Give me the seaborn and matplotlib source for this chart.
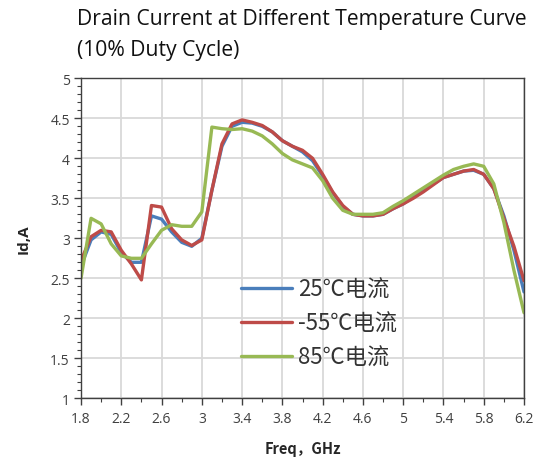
import numpy as np
import pandas as pd
import matplotlib
matplotlib.use("Agg")
import matplotlib.pyplot as plt
from matplotlib.ticker import MultipleLocator, FuncFormatter
import seaborn as sns

freq = [1.8, 1.9, 2.0, 2.1, 2.2, 2.3, 2.4, 2.5, 2.6, 2.7, 2.8, 2.9, 3.0, 3.1, 3.2,
        3.3, 3.4, 3.5, 3.6, 3.7, 3.8, 3.9, 4.0, 4.1, 4.2, 4.3, 4.4, 4.5, 4.6, 4.7,
        4.8, 4.9, 5.0, 5.1, 5.2, 5.3, 5.4, 5.5, 5.6, 5.7, 5.8, 5.9, 6.0, 6.1, 6.2]

id_25 = [2.65, 2.98, 3.08, 3.05, 2.82, 2.70, 2.70, 3.28, 3.24, 3.08, 2.95, 2.90, 3.00, 3.60, 4.15,
         4.40, 4.45, 4.44, 4.40, 4.33, 4.22, 4.15, 4.08, 3.97, 3.78, 3.57, 3.40, 3.30, 3.28, 3.28,
         3.30, 3.37, 3.43, 3.52, 3.60, 3.68, 3.76, 3.80, 3.84, 3.85, 3.80, 3.62, 3.28, 2.85, 2.33]

id_m55 = [2.72, 3.02, 3.10, 3.08, 2.85, 2.68, 2.48, 3.41, 3.39, 3.12, 2.98, 2.91, 2.98, 3.60, 4.18,
          4.43, 4.48, 4.45, 4.41, 4.33, 4.22, 4.15, 4.10, 4.00, 3.80, 3.58, 3.41, 3.30, 3.28, 3.28,
          3.30, 3.37, 3.43, 3.50, 3.58, 3.67, 3.76, 3.80, 3.84, 3.86, 3.80, 3.62, 3.25, 2.90, 2.47]

id_85 = [2.50, 3.25, 3.18, 2.93, 2.78, 2.75, 2.75, 2.93, 3.10, 3.17, 3.15, 3.15, 3.33, 4.39, 4.37,
         4.36, 4.37, 4.34, 4.28, 4.18, 4.06, 3.98, 3.93, 3.88, 3.72, 3.50, 3.35, 3.30, 3.30, 3.30,
         3.32, 3.40, 3.47, 3.55, 3.63, 3.71, 3.79, 3.86, 3.90, 3.93, 3.90, 3.68, 3.20, 2.60, 2.07]

series_names = ["25℃电流", "-55℃电流", "85℃电流"]
series_colors = ["#4A7EBB", "#BE4B48", "#98B954"]

title_text = "Drain Current at Different Temperature Curve\n(10% Duty Cycle)"
x_label = "Freq，GHz"
y_label = "Id,A"
x_ticks = [1.8, 2.2, 2.6, 3.0, 3.4, 3.8, 4.2, 4.6, 5.0, 5.4, 5.8, 6.2]

df = pd.concat([
    pd.DataFrame({"freq": freq, "Id": vals, "series": name})
    for name, vals in zip(series_names, [id_25, id_m55, id_85])
], ignore_index=True)

sns.set_theme(style="white")
plt.rcParams["font.family"] = ["Open Sans", "Noto Sans CJK SC", "DejaVu Sans"]

fig = plt.figure(figsize=(5.41, 4.64), dpi=100)
ax = fig.add_axes([81 / 541, 1 - 399.3 / 464, (524 - 81) / 541, (399.3 - 79.3) / 464])

sns.lineplot(data=df, x="freq", y="Id", hue="series", hue_order=series_names,
             palette=series_colors, linewidth=2.4, ax=ax, legend=True)

ax.set_xlim(1.8, 6.2)
ax.set_ylim(1, 5)
ax.set_xticks(x_ticks)
ax.xaxis.set_minor_locator(MultipleLocator(0.2))
ax.yaxis.set_major_locator(MultipleLocator(0.5))
ax.yaxis.set_minor_locator(MultipleLocator(0.1))
fmt = FuncFormatter(lambda v, p: f"{v:g}")
ax.xaxis.set_major_formatter(fmt)
ax.yaxis.set_major_formatter(fmt)

ax.grid(True, which="major", color="#d9d9d9", linewidth=1.3)
ax.set_axisbelow(True)
for s in ax.spines.values():
    s.set_color("#404040")
    s.set_linewidth(1.0)

ax.tick_params(axis="both", which="major", direction="out", length=5, width=1,
               color="#404040", labelsize=10, labelcolor="#404040")
ax.tick_params(axis="both", which="minor", direction="out", length=3, width=0.8,
               color="#404040")
ax.tick_params(axis="x", pad=4)
ax.tick_params(axis="y", pad=3)
ax.tick_params(bottom=True, left=True, which="both")

ax.set_xlabel(x_label, fontsize=10.5, fontweight="bold", color="#262626",
              family=["Noto Sans CJK SC"], labelpad=10)
ax.set_ylabel(y_label, fontsize=11, fontweight="bold", color="#262626", labelpad=14)

leg = ax.legend(loc="upper left", bbox_to_anchor=(0.315, 0.44), frameon=False,
                handlelength=2.3, handletextpad=0.3, labelspacing=0.5,
                prop={"family": ["Noto Sans CJK SC"], "size": 16})
for line in leg.get_lines():
    line.set_linewidth(2.4)
for t in leg.get_texts():
    t.set_color("#333333")

fig.text(77 / 541, 1 - 9 / 464, title_text, ha="left", va="top", fontsize=15.2,
         color="#111111", linespacing=1.6)

fig.savefig("out.png", dpi=100)
